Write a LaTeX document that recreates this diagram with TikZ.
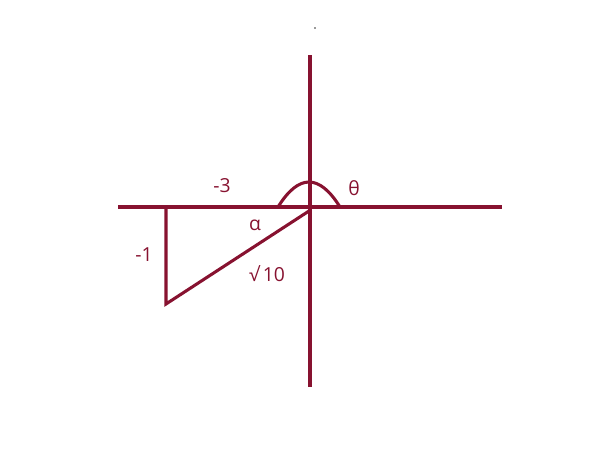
\documentclass[tikz,border=0pt]{standalone}
\usepackage{fontspec}
\setmainfont{Open Sans}
\definecolor{wine}{RGB}{135,18,48}
\begin{document}
\begin{tikzpicture}[x=0.75pt,y=-0.75pt,
  ln/.style={draw=wine,line width=2.3pt},
  lbl/.style={text=wine,font=\fontsize{14.5}{17}\selectfont,inner sep=0pt}]
\useasboundingbox (0,0) rectangle (600,450);
\coordinate (xl) at (118,207);
\coordinate (xr) at (502,207);
\coordinate (yt) at (310,55);
\coordinate (yb) at (310,387);
\coordinate (a) at (166,207);
\coordinate (b) at (166,304);
\coordinate (c) at (309,211);
\coordinate (arcL) at (278,207);
\coordinate (arcR) at (340,207);
\draw[ln] (xl) -- (xr);
\draw[ln] (yt) -- (yb);
\draw[ln] (a) -- (b) -- (c);
\draw[ln] (arcL) .. controls (298.7,173.7) and (319.3,173.7) .. (arcR);
\node[lbl] (m3) at (222,185.5) {-3};
\node[lbl] (th) at (354,188) {θ};
\node[lbl] (al) at (255,225) {α};
\node[lbl] (m1) at (144,254.5) {-1};
\node[lbl] (sq) at (267,274) {√\,10};
\fill[black!80] (315,28) circle (0.8);
\end{tikzpicture}
\end{document}
